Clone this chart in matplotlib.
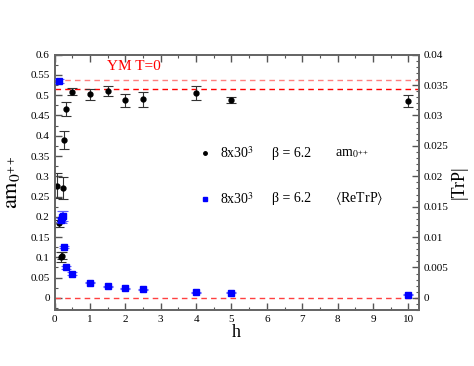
import numpy as np
import matplotlib
matplotlib.use("Agg")
import matplotlib.pyplot as plt
from matplotlib.ticker import MultipleLocator

plt.rcParams['font.family'] = ['Liberation Serif', 'DejaVu Serif']
plt.rcParams['mathtext.fontset'] = 'stix'

# am_0++ (eje izquierdo)
h_m = [0.06, 0.12, 0.17, 0.21, 0.25, 0.28, 0.33, 0.5, 1.0, 1.5, 2.0, 2.5, 4.0, 5.0, 10.0]
m0 = [0.277, 0.184, 0.100, 0.104, 0.272, 0.390, 0.466, 0.509, 0.502, 0.511, 0.488, 0.490, 0.505, 0.488, 0.486]
m0_err = [0.030, 0.008, 0.012, 0.008, 0.027, 0.022, 0.017, 0.009, 0.014, 0.012, 0.016, 0.018, 0.017, 0.008, 0.014]

# <ReTrP> (eje derecho)
h_p = [0.12, 0.18, 0.21, 0.25, 0.28, 0.33, 0.5, 1.0, 1.5, 2.0, 2.5, 4.0, 5.0, 10.0]
trp = [0.0357, 0.0128, 0.0133, 0.0135, 0.0084, 0.0050, 0.0040, 0.0025, 0.0019, 0.0016, 0.0014, 0.00094, 0.00087, 0.00054]
trp_err = [0.0003, 0.0003, 0.0010, 0.0008, 0.0002, 0.0002, 0.0002, 0.0001, 0.0001, 0.0001, 0.0001, 0.0001, 0.0001, 0.0001]

ym_m0 = 0.515      # YM T=0
ym_trp = 0.0358

fig = plt.figure(figsize=(4.74, 3.66), dpi=100)
ax = fig.add_axes([0.115, 0.153, 0.769, 0.6975])
ax2 = ax.twinx()

ax.errorbar(h_m, m0, yerr=m0_err, fmt='o', color='black', ms=3.5,
            ecolor='#333333', elinewidth=0.8, capsize=3.5, capthick=0.8, zorder=3)
ax2.errorbar(h_p, trp, yerr=trp_err, fmt='s', color='#0000ff', ms=4.5,
             ecolor='#6060ff', elinewidth=0.8, capsize=3.5, capthick=0.8, zorder=3)

ax.axhline(ym_m0, color='#ff0000', ls=(0, (4, 3)), lw=1.0)
ax.axhline(0, color='#ff4040', ls=(0, (4, 3)), lw=1.0)
ax2.axhline(ym_trp, color='#ff8080', ls=(0, (4, 3)), lw=1.0)

ax.set_xlim(0, 10.3)
ax.set_ylim(-0.03, 0.6)
ax2.set_ylim(-0.002, 0.04)

ax.xaxis.set_major_locator(MultipleLocator(1))
ax.xaxis.set_minor_locator(MultipleLocator(0.5))
ax.yaxis.set_minor_locator(MultipleLocator(0.025))
ax2.yaxis.set_minor_locator(MultipleLocator(0.001))

ax.set_yticks(np.arange(0, 0.61, 0.05))
ax.set_yticklabels(['0', '0.05', '0.1', '0.15', '0.2', '0.25', '0.3', '0.35', '0.4', '0.45', '0.5', '0.55', '0.6'])
ax2.set_yticks(np.arange(0, 0.0401, 0.005))
ax2.set_yticklabels(['0', '0.005', '0.01', '0.015', '0.02', '0.025', '0.03', '0.035', '0.04'])

for a in (ax, ax2):
    a.tick_params(which='both', direction='in', labelsize=8, colors='#555555', labelcolor='black')
    a.tick_params(which='major', length=5, width=1)
    a.tick_params(which='minor', length=2.5, width=0.8)
    for s in a.spines.values():
        s.set_color('#666666')
        s.set_linewidth(1.3)
ax.tick_params(axis='x', which='both', top=True)

ax.set_xlabel('h', fontsize=13, labelpad=0)
ax.set_ylabel(r'$\mathrm{am}_{0^{++}}$', fontsize=16, labelpad=6)
ax2.set_ylabel('|TrP|', fontsize=13, labelpad=1)

ax.text(0.144, 0.952, 'YM T=0', transform=ax.transAxes, color='#ff0000',
        fontsize=11, va='center')

# leyenda
ax.plot([0.413], [0.615], 'o', color='black', ms=2.5, transform=ax.transAxes, clip_on=False)
ax.plot([0.413], [0.435], 's', color='#0000ff', ms=3, transform=ax.transAxes, clip_on=False)
for yy, lab in [(0.615, r'am$_{0^{++}}$'), (0.435, r'$\langle$ReTrP$\rangle$')]:
    ax.text(0.454, yy, r'8x30$^3$', transform=ax.transAxes, fontsize=10, va='center')
    ax.text(0.597, yy, 'β = 6.2', transform=ax.transAxes, fontsize=10, va='center')
    ax.text(0.77, yy, lab, transform=ax.transAxes, fontsize=10, va='center')

fig.savefig('out.png', dpi=100)
